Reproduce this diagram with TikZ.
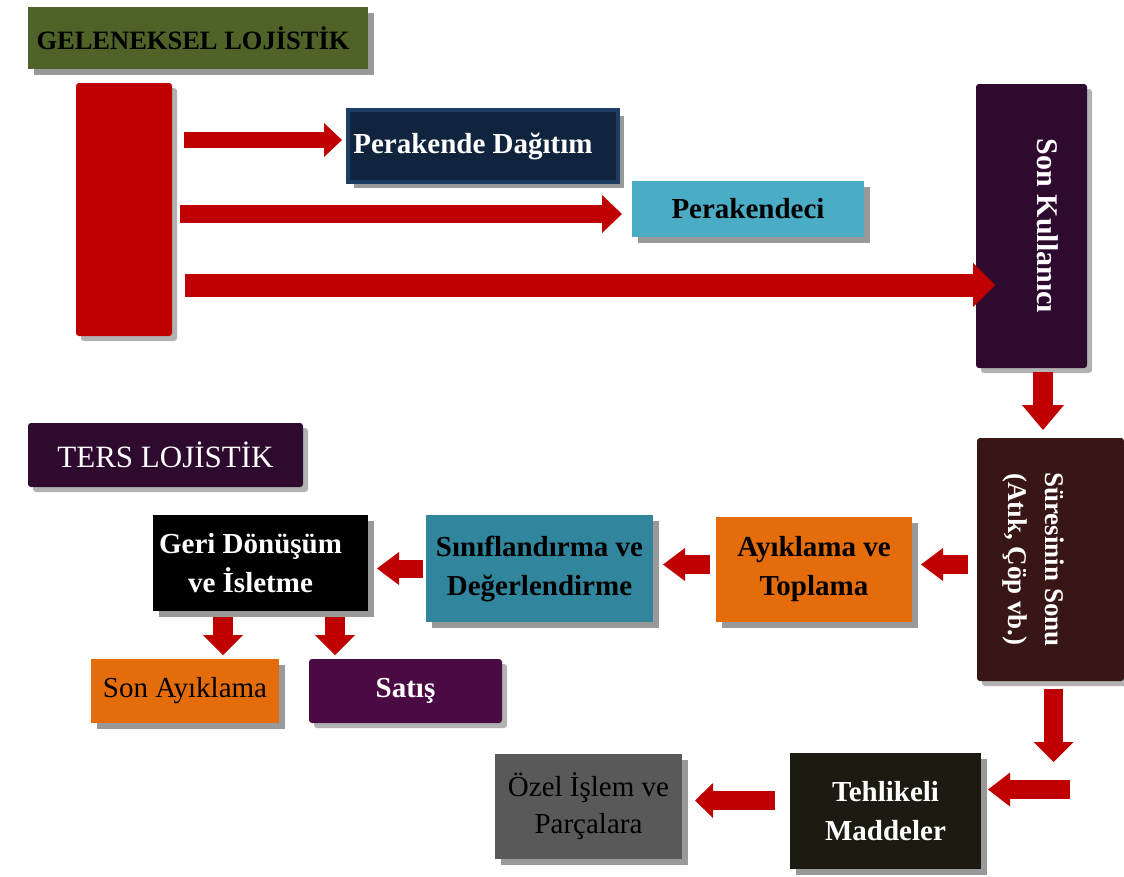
\documentclass[tikz,border=0pt]{standalone}
\usepackage{fontspec}
\setmainfont{Liberation Serif}
\usepackage{graphicx}
\usetikzlibrary{arrows.meta,shadows}

\definecolor{zeytin}{HTML}{4F6228}
\definecolor{kirmizi}{HTML}{C00000}
\definecolor{lacivert}{HTML}{10243E}
\definecolor{lacikenar}{HTML}{1F3D64}
\definecolor{acikmavi}{HTML}{4BACC6}
\definecolor{morkoyu}{HTML}{2E0A2E}
\definecolor{kahve}{HTML}{381616}
\definecolor{turuncu}{HTML}{E46C0A}
\definecolor{petrol}{HTML}{31859C}
\definecolor{mor}{HTML}{4A0A43}
\definecolor{koyu}{HTML}{1D1B11}
\definecolor{gri}{HTML}{595959}

\begin{document}
\begin{tikzpicture}[x=1pt, y=-1pt,
        kutu/.style={rectangle, inner sep=0pt, outer sep=0pt, align=center,
            font=\fontsize{29}{39}\selectfont\bfseries},
        golge/.style={drop shadow={fill=black!40, opacity=1, shadow xshift=6pt, shadow yshift=-6pt}},
        yumusak/.style={rounded corners=3pt,
            drop shadow={fill=black, opacity=.3, shadow xshift=5pt, shadow yshift=-5pt}},
        ok/.style n args={3}{draw=kirmizi, line width=#1,
            -{Triangle[length=#2, width=#3, line width=0pt]}}]
        \useasboundingbox (0,0) rectangle (1124,876);

        % Kutular
        \node[kutu, golge, fill=zeytin, minimum width=340pt, minimum height=62pt,
            font=\fontsize{26.5}{30}\selectfont\bfseries] (gel) at (198,38) {GELENEKSEL LOJİSTİK\hspace*{10pt}};
        \node[kutu, yumusak, fill=kirmizi, minimum width=96pt, minimum height=253pt] (kaynak) at (124,209.5) {};
        \node[kutu, golge, fill=lacivert, draw=lacikenar, line width=4pt, text=white,
            minimum width=270pt, minimum height=72pt] (dagitim) at (483,146) {Perakende Dağıtım\hspace*{20pt}};
        \node[kutu, golge, fill=acikmavi, minimum width=232pt, minimum height=56pt] (perakendeci) at (748,209) {Perakendeci};
        \node[kutu, yumusak, fill=morkoyu, text=white, minimum width=111pt, minimum height=284pt,
            font=\fontsize{30}{36}\selectfont\bfseries] (kullanici) at (1031.5,226) {\hspace*{32pt}\rotatebox{-90}{Son Kullanıcı}};

        \node[kutu, yumusak, fill=morkoyu, text=white, minimum width=275pt, minimum height=64pt,
            font=\fontsize{31}{36}\selectfont] (ters) at (165.5,455) {TERS LOJİSTİK};
        \node[kutu, yumusak, fill=kahve, text=white, minimum width=147pt, minimum height=243pt,
            font=\fontsize{27}{37}\selectfont\bfseries] (sonu) at (1050.5,559.5)
            {\rotatebox{-90}{\begin{tabular}{@{}c@{}}Süresinin Sonu\\(Atık, Çöp vb.)\end{tabular}}\hspace*{32pt}};
        \node[kutu, golge, fill=turuncu, minimum width=196pt, minimum height=105pt] (toplama) at (814,569.5) {Ayıklama ve\\Toplama};
        \node[kutu, golge, fill=petrol, minimum width=227pt, minimum height=107pt] (siniflandirma) at (539.5,568.5) {Sınıflandırma ve\\Değerlendirme};
        \node[kutu, golge, fill=black, text=white, minimum width=215pt, minimum height=96pt] (geri) at (260.5,563) {Geri Dönüşüm\hspace*{20pt}\\ve İsletme\hspace*{20pt}};
        \node[kutu, golge, fill=turuncu, minimum width=188pt, minimum height=64pt,
            font=\fontsize{29}{39}\selectfont] (ayiklama) at (185,691) {Son Ayıklama};
        \node[kutu, yumusak, fill=mor, text=white, minimum width=193pt, minimum height=64pt] (satis) at (405.5,691) {Satış};
        \node[kutu, golge, fill=koyu, text=white, minimum width=191pt, minimum height=116pt] (tehlikeli) at (885.5,811) {Tehlikeli\\Maddeler};
        \node[kutu, golge, fill=gri, minimum width=187pt, minimum height=105pt,
            font=\fontsize{29}{37}\selectfont] (ozel) at (588.5,806.5) {Özel İşlem ve\\Parçalara};

        \coordinate (donus1) at (1053.5,762);
        \coordinate (donus2) at (1070,789.5);

        % Oklar
        \draw[ok={16pt}{18pt}{34pt}, shorten <=12pt, shorten >=6pt] ([yshift=6pt]kaynak.east |- dagitim.west) -- ([yshift=6pt]dagitim.west);
        \draw[ok={18pt}{20pt}{38pt}, shorten <=8pt, shorten >=10pt] ([yshift=-5pt]kaynak.east |- perakendeci.west) -- ([yshift=-5pt]perakendeci.west);
        \draw[ok={23pt}{22pt}{44pt}, shorten <=13pt, shorten >=-19pt] ([yshift=-75.5pt]kaynak.east) -- ([yshift=-75.5pt]kaynak.east -| kullanici.west);
        \draw[ok={20pt}{25pt}{42pt}, shorten <=4pt, shorten >=8pt] ([xshift=11.5pt]kullanici.south) -- ([xshift=11.5pt]kullanici.south |- sonu.north);
        \draw[ok={19pt}{22pt}{33pt}, shorten <=9pt, shorten >=9pt] ([yshift=-5pt]sonu.west) -- ([yshift=-5pt]sonu.west -| toplama.east);
        \draw[ok={19pt}{22pt}{33pt}, shorten <=6pt, shorten >=10pt] ([yshift=5pt]toplama.west) -- ([yshift=5pt]toplama.west -| siniflandirma.east);
        \draw[ok={18pt}{22pt}{33pt}, shorten <=3pt, shorten >=9pt] (siniflandirma.west) -- (siniflandirma.west -| geri.east);
        \draw[ok={20pt}{20pt}{40pt}, shorten <=6pt, shorten >=4pt] ([xshift=-37.5pt]geri.south) -- ([xshift=-37.5pt]geri.south |- ayiklama.north);
        \draw[ok={20pt}{20pt}{40pt}, shorten <=6pt, shorten >=4pt] ([xshift=74.5pt]geri.south) -- ([xshift=74.5pt]geri.south |- satis.north);
        \draw[ok={19pt}{20pt}{40pt}, shorten <=8pt] (sonu.south -| donus1) -- (donus1);
        \draw[ok={19pt}{22pt}{34pt}, shorten >=7pt] (donus2) -- (donus2 -| tehlikeli.east);
        \draw[ok={19pt}{18pt}{35pt}, shorten <=15pt, shorten >=13pt] ([yshift=10.5pt]tehlikeli.west) -- ([yshift=10.5pt]tehlikeli.west -| ozel.east);
    \end{tikzpicture}
\end{document}
